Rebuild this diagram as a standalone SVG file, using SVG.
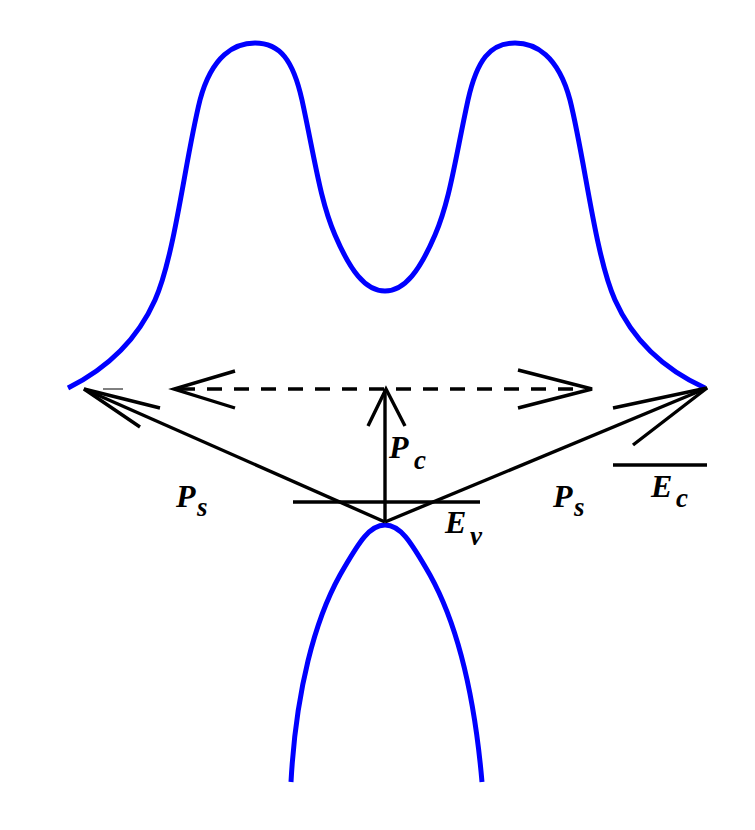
<svg xmlns="http://www.w3.org/2000/svg" width="755" height="830" viewBox="0 0 755 830">
<style>
.band{fill:none;stroke:#0000ff;stroke-width:5;stroke-linejoin:round}
.ln{fill:none;stroke:#000;stroke-width:3.4}
.lb{font-family:"Liberation Serif",serif;font-weight:bold;font-style:italic;fill:#000}
.big{font-size:32px}
.sub{font-size:27px}
</style>
<rect width="755" height="830" fill="#fff"/>
<g id="conduction-band">
<path class="band" d="M68,388 C100,372 135,345 155,300 C175,255 185,160 200,100 C212,55 235,43 255,43 C280,43 293,60 302,100 C315,160 320,200 335,235 C350,270 365,291 385,291 C405,291 420,270 435,235 C450,200 455,160 468,100 C477,60 490,43 515,43 C535,43 558,55 570,100 C585,160 595,255 615,300 C635,345 670,372 705,388"/>
</g>
<g id="valence-band">
<path class="band" d="M291,782 C296,690 315,620 340,575 C360,540 370,525 385,525 C400,525 410,540 430,575 C455,620 474,690 482,782"/>
</g>
<g id="connectors">
<line class="ln" x1="180" y1="389" x2="590" y2="389" stroke-dasharray="15,12"/>
<polyline class="ln" points="235,371 174,389 235,408"/>
<polyline class="ln" points="518,370 592,389 518,408"/>
<line class="ln" x1="385" y1="389" x2="385" y2="522"/>
<polyline class="ln" points="368,426 386,389 405,426"/>
<line class="ln" x1="293" y1="502" x2="480" y2="502"/>
<line class="ln" x1="613" y1="465" x2="707" y2="465"/>
<line class="ln" x1="385" y1="522" x2="84" y2="389"/>
<line class="ln" x1="385" y1="522" x2="707" y2="388"/>
<polyline class="ln" points="160,408 84,389 140,427"/>
<polyline class="ln" points="613,408 707,388 633,445"/>
<line x1="103" y1="389" x2="123" y2="389" stroke="#000" stroke-width="1"/>
</g>
<g id="label-ps-left"><text class="lb big" x="176" y="507">P</text><text class="lb sub" x="197" y="516">s</text></g>
<g id="label-ps-right"><text class="lb big" x="553" y="507">P</text><text class="lb sub" x="574" y="516">s</text></g>
<g id="label-pc"><text class="lb big" x="389" y="458">P</text><text class="lb sub" x="414" y="469">c</text></g>
<g id="label-ec"><text class="lb big" x="651" y="497">E</text><text class="lb sub" x="676" y="507">c</text></g>
<g id="label-ev"><text class="lb big" x="445" y="533">E</text><text class="lb sub" x="470" y="545">v</text></g>
</svg>
